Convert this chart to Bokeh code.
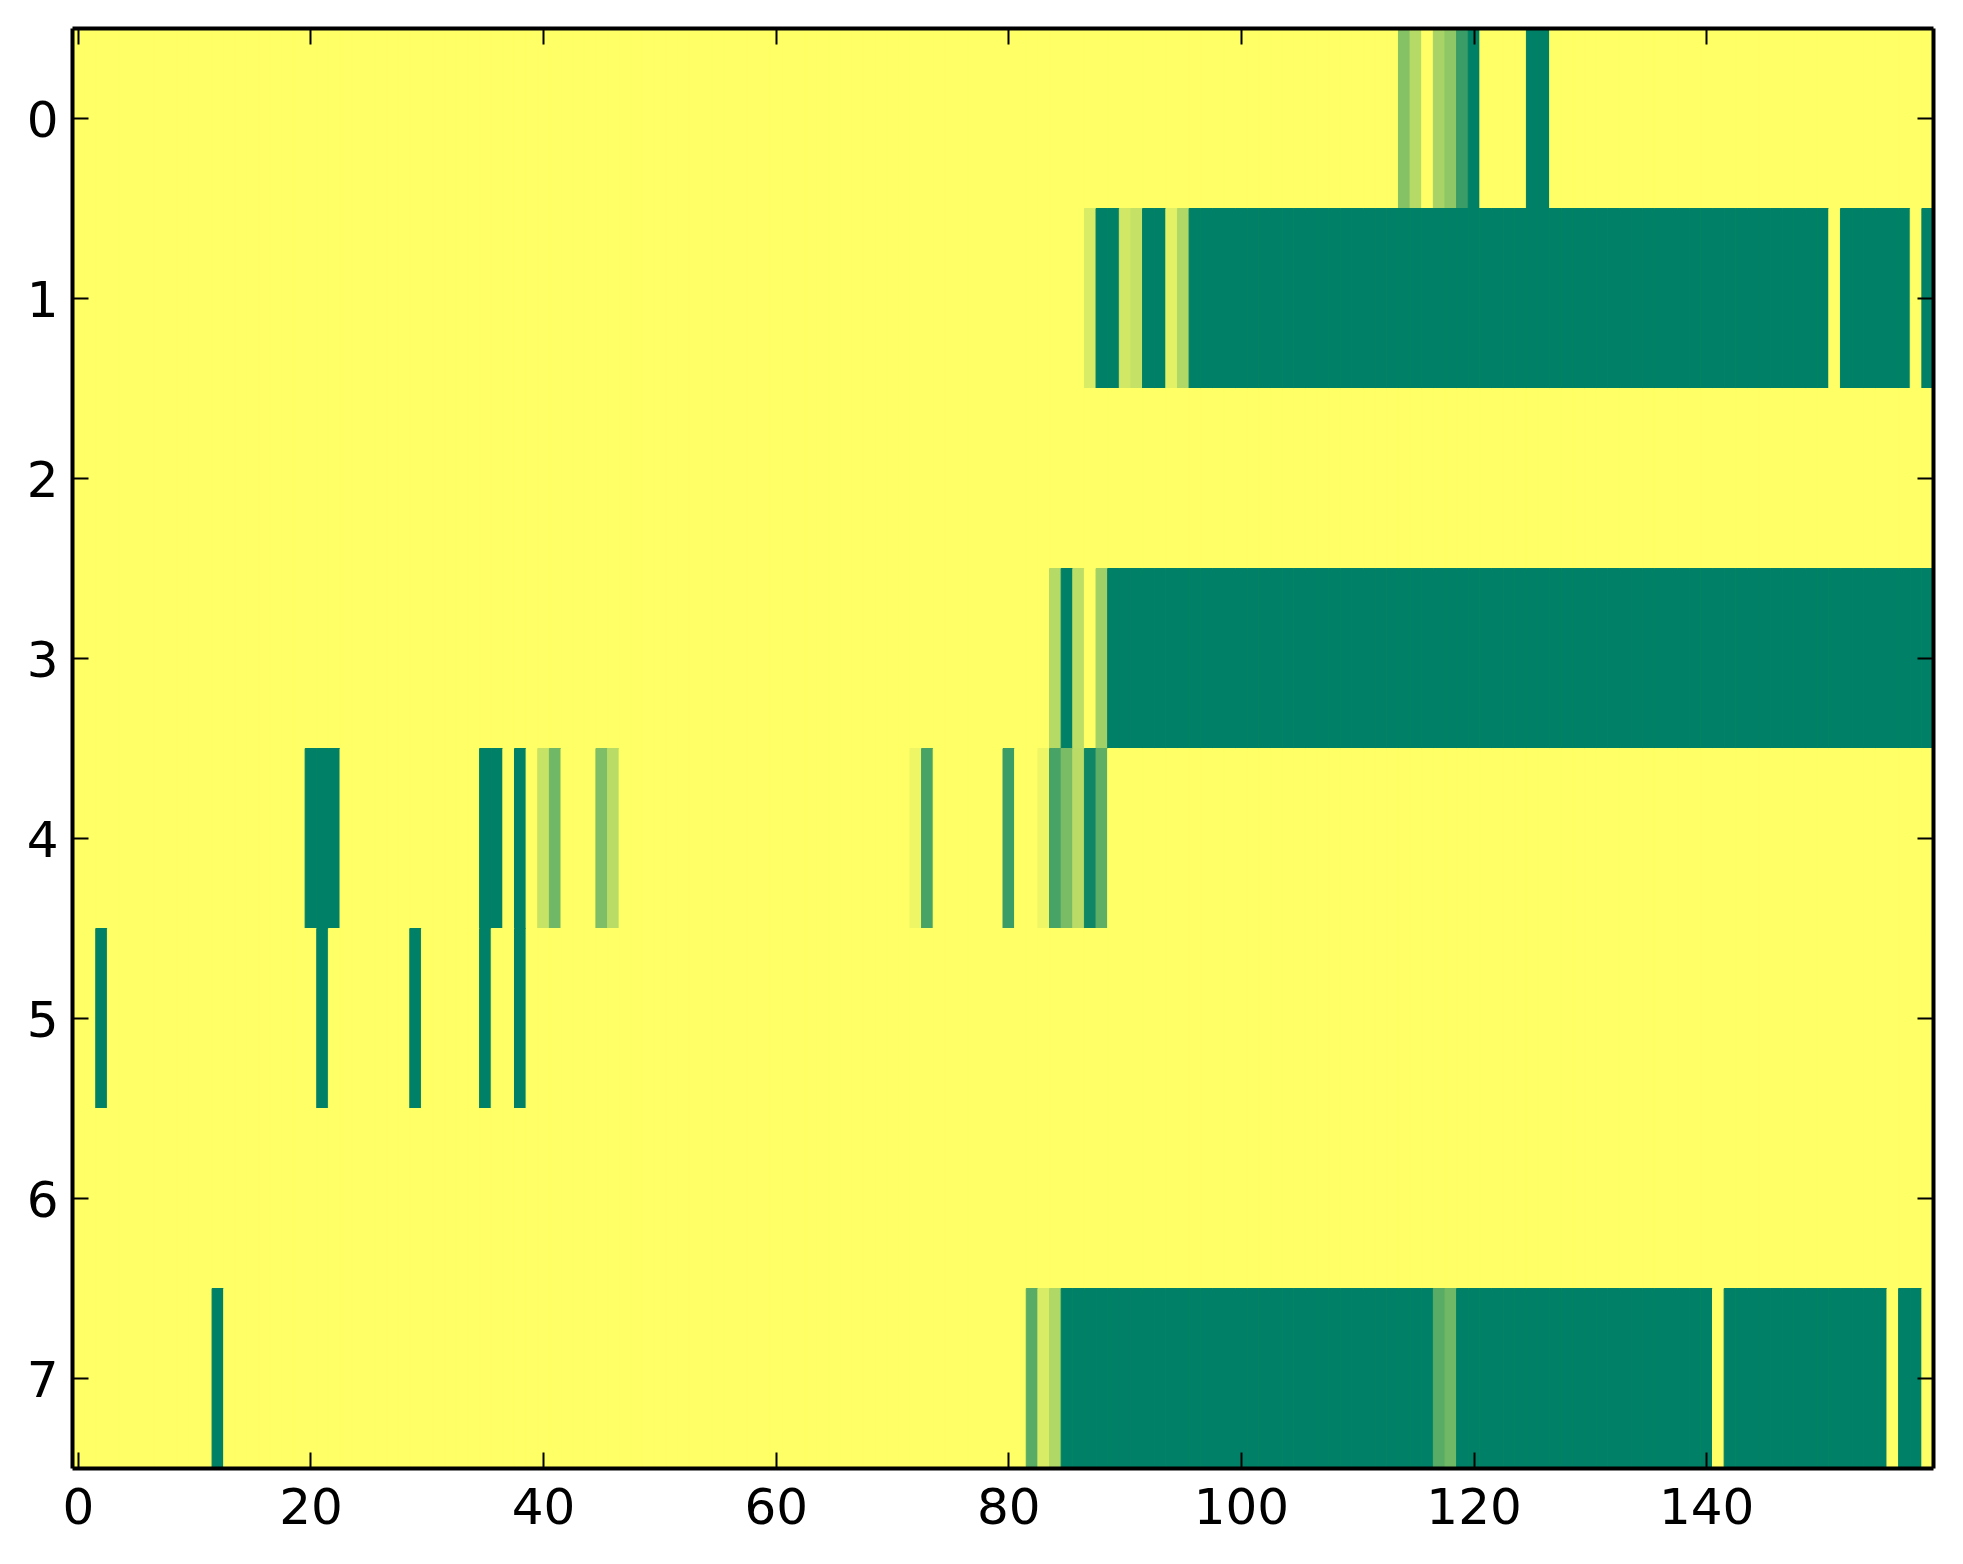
from bokeh.plotting import figure
from bokeh.models import Range1d, FixedTicker, LinearAxis, ColumnDataSource
from bokeh.transform import linear_cmap
from bokeh.embed import file_html
from bokeh.resources import INLINE

# ---- data: one row of 160 cells per category ----
row_labels = [0, 1, 2, 3, 4, 5, 6, 7]
x_ticks = [0, 20, 40, 60, 80, 100, 120, 140]

row_0 = [0]*114 + [0.48, 0.29, 0, 0.34, 0.44, 0.77, 1] + [0]*4 + [1, 1] + [0]*33
row_1 = ([0]*87 + [0.15, 1, 1, 0.18, 0.23, 1, 1, 0.11, 0.31] + [1]*55 + [0]
         + [1]*6 + [0] + [1])
row_2 = [0]*160
row_3 = [0]*84 + [0.29, 1, 0.26, 0, 0.37] + [1]*71
row_4 = ([0]*20 + [1, 1, 1] + [0]*12 + [1, 1, 0, 1, 0, 0.22, 0.56] + [0]*3
         + [0.51, 0.28] + [0]*25 + [0.07, 0.72] + [0]*6 + [0.77] + [0]*2
         + [0.07, 0.72, 0.52, 0.27, 0.94, 0.63] + [0]*71)
row_5 = ([0]*2 + [1] + [0]*18 + [1] + [0]*7 + [1] + [0]*5 + [1] + [0]*2 + [1]
         + [0]*121)
row_6 = [0]*160
row_7 = ([0]*12 + [1] + [0]*69 + [0.65, 0.15, 0.31] + [1]*32 + [0.65, 0.56]
         + [1]*22 + [0] + [1]*14 + [0] + [1, 1] + [0])

rows = [row_0, row_1, row_2, row_3, row_4, row_5, row_6, row_7]
for r in rows:
    assert len(r) == 160, len(r)

# summer_r colormap
palette = []
for i in range(256):
    v = i / 255
    palette.append("#%02x%02x%02x" % (round(255 * (1 - v)), round(255 * (1 - v / 2)), 102))

left, right, top, bottom, vals = [], [], [], [], []
for ri, row in zip(row_labels, rows):
    for ci, v in enumerate(row):
        left.append(ci - 0.5)
        right.append(ci + 0.5)
        top.append(ri - 0.5)
        bottom.append(ri + 0.5)
        vals.append(v)
src = ColumnDataSource(dict(left=left, right=right, top=top, bottom=bottom, v=vals))

ncols = len(row_0)
p = figure(frame_width=1861, frame_height=1440,
           x_range=Range1d(-0.5, ncols - 0.5), y_range=Range1d(len(rows) - 0.5, -0.5),
           output_backend="svg", toolbar_location=None,
           min_border_left=72, min_border_top=28, min_border_right=18, min_border_bottom=82)

cmap = linear_cmap("v", palette, 0, 1)
p.quad(left="left", right="right", top="top", bottom="bottom", source=src,
       fill_color=cmap, line_color=cmap, line_width=1)

p.grid.visible = False
p.outline_line_color = None
p.background_fill_color = "#ffff66"
p.border_fill_color = "white"

p.add_layout(LinearAxis(), "right")
p.add_layout(LinearAxis(), "above")

for ax in p.xaxis:
    ax.ticker = FixedTicker(ticks=x_ticks)
for ax in p.yaxis:
    ax.ticker = FixedTicker(ticks=row_labels)

for ax in p.axis:
    ax.axis_line_color = "black"
    ax.axis_line_width = 4
    ax.major_tick_in = 16
    ax.major_tick_out = 0
    ax.major_tick_line_width = 2
    ax.major_tick_line_color = "black"
    ax.minor_tick_line_color = None
    ax.major_label_text_font = "DejaVu Sans"
    ax.major_label_text_font_size = "50px"
    ax.major_label_text_color = "black"

p.below[0].major_label_standoff = 19
p.left[0].major_label_standoff = 14
for ax in (p.right[0], p.above[0]):
    ax.major_label_text_font_size = "0px"
    ax.major_label_standoff = 0
    ax.major_label_text_alpha = 0

open("out.html", "w").write(file_html(p, INLINE))
